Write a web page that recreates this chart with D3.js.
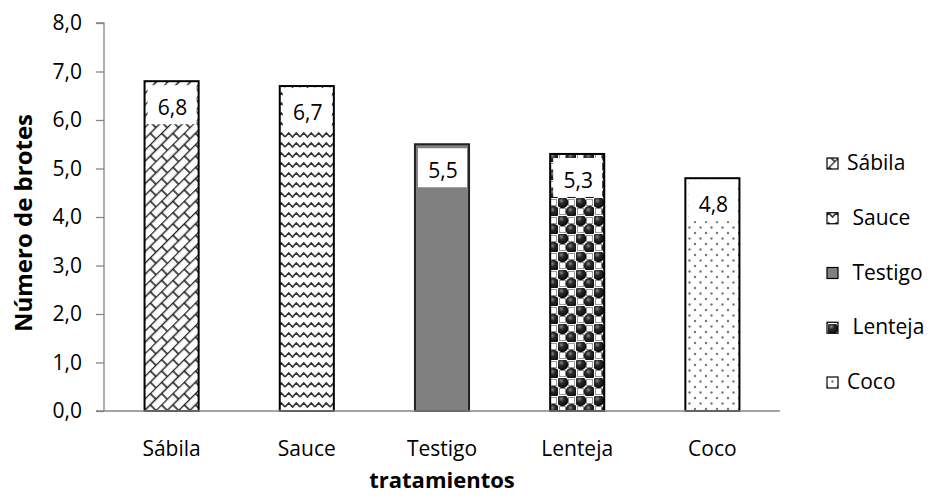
<!DOCTYPE html>
<html>
<head>
<meta charset="utf-8">
<script src="https://cdn.jsdelivr.net/npm/d3@7/dist/d3.min.js"></script>
<style>
  html, body { margin: 0; padding: 0; background: #fff; }
  svg { display: block; font-family: "Open Sans", Carlito, Calibri, sans-serif; }
</style>
</head>
<body>
<svg id="chart" width="938" height="498"></svg>
<script>
// Número de brotes por tratamiento
const categories = ["Sábila", "Sauce", "Testigo", "Lenteja", "Coco"];
const values = [6.8, 6.7, 5.5, 5.3, 4.8];
const yTicks = [0, 1, 2, 3, 4, 5, 6, 7, 8];
const legendLabels = ["Sábila", " Sauce", " Testigo", " Lenteja", "Coco"];
const fillIds = ["pSabila", "pSauce", "pTestigo", "pLenteja", "pCoco"];

const svg = d3.select("#chart");
const margin = { left: 104, right: 158, top: 23, bottom: 87 };
const W = 938, H = 498;
const FS = 21;

const x = d3.scaleBand().domain(categories).range([margin.left, W - margin.right]).paddingInner(0.6).paddingOuter(0.3);
const y = d3.scaleLinear().domain([0, 8]).range([H - margin.bottom, margin.top]);
const fmt = v => d3.format(".1f")(v).replace(".", ",");

const defs = svg.append("defs");

// brick / weave diagonal
const p1 = defs.append("pattern").attr("id", "pSabila").attr("patternUnits", "userSpaceOnUse")
  .attr("width", 16).attr("height", 16).attr("patternTransform", "rotate(-45)");
p1.append("rect").attr("width", 16).attr("height", 16).attr("fill", "#fff");
p1.append("path").attr("d", "M0,0.5H16 M0,8.5H16 M4,0V8 M12,8V16").attr("stroke", "#222").attr("stroke-width", 1.6);

// zigzag waves
const p2 = defs.append("pattern").attr("id", "pSauce").attr("patternUnits", "userSpaceOnUse")
  .attr("width", 15).attr("height", 10);
p2.append("rect").attr("width", 15).attr("height", 10).attr("fill", "#fff");
p2.append("path").attr("d", "M0,7 L3.75,3 L7.5,7 L11.25,3 L15,7").attr("fill", "none").attr("stroke", "#333").attr("stroke-width", 1.7);

// solid gray
const p3 = defs.append("pattern").attr("id", "pTestigo").attr("patternUnits", "userSpaceOnUse")
  .attr("width", 8).attr("height", 8);
p3.append("rect").attr("width", 8).attr("height", 8).attr("fill", "#808080");

// sphere checkerboard
const rg = defs.append("radialGradient").attr("id", "ball").attr("cx", "40%").attr("cy", "35%").attr("r", "60%");
rg.append("stop").attr("offset", "0%").attr("stop-color", "#888");
rg.append("stop").attr("offset", "40%").attr("stop-color", "#2a2a2a");
rg.append("stop").attr("offset", "100%").attr("stop-color", "#0d0d0d");
const p4 = defs.append("pattern").attr("id", "pLenteja").attr("patternUnits", "userSpaceOnUse")
  .attr("width", 18).attr("height", 18);
p4.append("rect").attr("width", 18).attr("height", 18).attr("fill", "#fff");
p4.append("rect").attr("x", 10.5).attr("y", 1.5).attr("width", 6).attr("height", 6).attr("fill", "none").attr("stroke", "#999").attr("stroke-width", 1);
p4.append("rect").attr("x", 1.5).attr("y", 10.5).attr("width", 6).attr("height", 6).attr("fill", "none").attr("stroke", "#999").attr("stroke-width", 1);
p4.append("circle").attr("cx", 4.5).attr("cy", 4.5).attr("r", 5.8).attr("fill", "url(#ball)");
p4.append("circle").attr("cx", 13.5).attr("cy", 13.5).attr("r", 5.8).attr("fill", "url(#ball)");

// dots
const p5 = defs.append("pattern").attr("id", "pCoco").attr("patternUnits", "userSpaceOnUse")
  .attr("width", 11).attr("height", 11);
p5.append("rect").attr("width", 11).attr("height", 11).attr("fill", "#fff");
p5.append("circle").attr("cx", 2).attr("cy", 2).attr("r", 1.2).attr("fill", "#777");
p5.append("circle").attr("cx", 7.5).attr("cy", 7.5).attr("r", 1.2).attr("fill", "#777");

// axes
const yAxis = d3.axisLeft(y).tickValues(yTicks).tickSize(8).tickFormat(fmt);
const gy = svg.append("g").attr("transform", `translate(${margin.left},0)`).call(yAxis);
gy.select(".domain").attr("stroke", "#868686").attr("stroke-width", 1.3).attr("d", `M-8,${y(8)}H0V${y(0)}`);
gy.selectAll(".tick line").attr("stroke", "#868686").attr("stroke-width", 1.3);
gy.selectAll(".tick text").attr("font-size", FS).attr("fill", "#000").attr("x", -22)
  .attr("font-family", "'Open Sans', Carlito, Calibri, sans-serif");

// bars
const bars = svg.append("g");
categories.forEach((c, i) => {
  bars.append("rect")
    .attr("x", x(c)).attr("y", y(values[i]))
    .attr("width", x.bandwidth()).attr("height", y(0) - y(values[i]))
    .attr("fill", `url(#${fillIds[i]})`)
    .attr("stroke", i === 2 ? "#222" : "#000").attr("stroke-width", 2);
});

// x axis line
svg.append("line").attr("x1", margin.left - 8).attr("x2", W - margin.right)
  .attr("y1", y(0)).attr("y2", y(0)).attr("stroke", "#868686").attr("stroke-width", 1.5);

// value labels
const labels = svg.append("g");
categories.forEach((c, i) => {
  const cx = x(c) + x.bandwidth() / 2;
  const top = y(values[i]);
  labels.append("rect").attr("x", x(c) + 3).attr("y", top + 4).attr("width", x.bandwidth() - 5).attr("height", 39).attr("fill", "#fff");
  labels.append("text").attr("x", cx + 1).attr("y", top + 34).attr("text-anchor", "middle")
    .attr("font-size", FS).text(fmt(values[i]));
});

// category labels
svg.append("g").selectAll("text").data(categories).join("text")
  .attr("x", d => x(d) + x.bandwidth() / 2).attr("y", y(0) + 45)
  .attr("text-anchor", "middle").attr("font-size", FS).text(d => d);

// axis titles
svg.append("text").attr("x", x(categories[2]) + x.bandwidth() / 2).attr("y", 488)
  .attr("text-anchor", "middle").attr("font-size", 22).attr("font-weight", "bold").text("tratamientos");
svg.append("text").attr("transform", `translate(32,223) rotate(-90)`)
  .attr("text-anchor", "middle").attr("font-size", 24).attr("font-weight", "bold").text("Número de brotes");

// legend
const lg = svg.append("g");
categories.forEach((c, i) => {
  const ly = 163 + i * 54.75;
  lg.append("rect").attr("x", 827).attr("y", ly - 5).attr("width", 11).attr("height", 11)
    .attr("fill", `url(#${fillIds[i]})`).attr("stroke", "#000").attr("stroke-width", 1.2);
  lg.append("text").attr("x", 847).attr("y", ly + 7).attr("font-size", FS)
    .attr("xml:space", "preserve").style("white-space", "pre").text(legendLabels[i]);
});
</script>
</body>
</html>
